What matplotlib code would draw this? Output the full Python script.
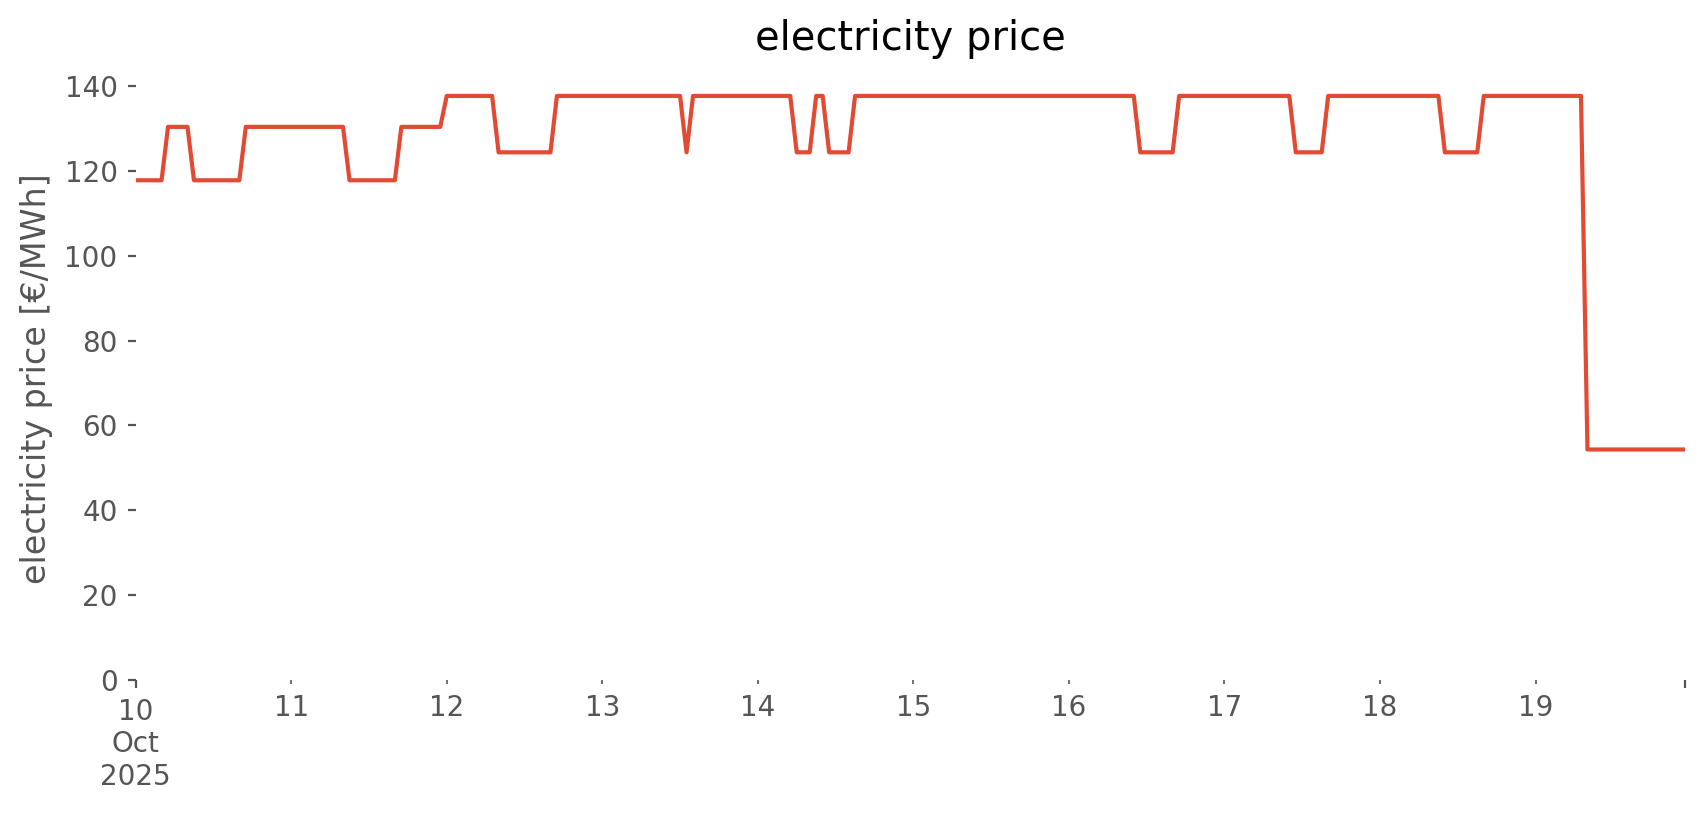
import numpy as np
import pandas as pd
import matplotlib
matplotlib.use("Agg")
import matplotlib.pyplot as plt

# --- data: hourly price levels, stored as (value, number of hours) runs ---
levels = [117.8, 130.4, 117.8, 130.4, 117.8, 130.4, 137.7, 124.4, 137.7, 124.4,
          137.7, 124.4, 137.7, 124.4, 137.7, 124.4, 137.7, 124.4, 137.7, 124.4,
          137.7, 54.3]
hours = [5, 4, 8, 16, 8, 7, 8, 9, 20, 1,
         16, 3, 2, 4, 44, 6, 18, 5, 18, 6,
         16, 16]

start = "2025-10-10 00:00"
price = np.repeat(levels, hours)
idx = pd.date_range(start, periods=len(price), freq="h")
s = pd.Series(price, index=idx)

plt.style.use("ggplot")
fig = plt.figure(figsize=(8.53, 4.075), dpi=200)
ax = fig.add_axes([0.0795, 0.166, 0.908, 0.738])
ax.set_facecolor("white")
ax.grid(False)
for sp in ax.spines.values():
    sp.set_visible(False)

ax.plot(s.index, s.values, color="#E24A33", lw=1.5)
ax.set_xlim(s.index[0], s.index[-1])
ax.set_ylim(0, None)
ax.set_yticks(range(0, 141, 20))

# major ticks at the ends, minor ticks at each day
ax.set_xticks([s.index[0], s.index[-1]])
ax.set_xticklabels(["10\nOct\n2025", ""])
days = pd.date_range("2025-10-11", "2025-10-19", freq="D")
ax.set_xticks(days, minor=True)
ax.set_xticklabels([str(d.day) for d in days], minor=True)
ax.tick_params(axis="x", which="major", length=3, color="#555555", labelcolor="#555555")
ax.tick_params(axis="x", which="minor", length=1.6, color="#555555", labelcolor="#555555", labelsize=10)
ax.tick_params(axis="y", length=3, color="#555555", labelcolor="#555555")

ax.set_ylabel("electricity price [€/MWh]", color="#555555")
ax.set_title("electricity price", color="black", pad=10)

fig.savefig("out.png", dpi=200, facecolor="white")
